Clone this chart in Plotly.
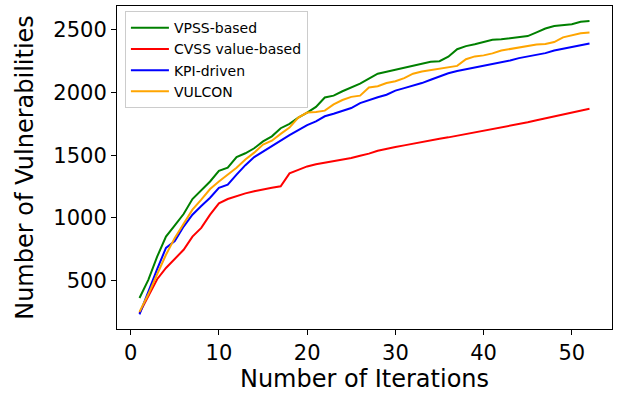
import plotly.graph_objects as go

iterations = list(range(1, 53))

vpss = [360, 505, 690, 850, 940, 1030, 1150, 1220, 1290, 1375, 1400, 1485, 1515, 1555, 1610, 1650,
        1715, 1750, 1800, 1840, 1885, 1960, 1975, 2010, 2040, 2070, 2110, 2150, 2165, 2180, 2200,
        2215, 2230, 2245, 2250, 2285, 2345, 2370, 2385, 2405, 2420, 2425, 2435, 2440, 2450, 2480,
        2510, 2530, 2535, 2545, 2565, 2570]

cvss = [240, 375, 510, 600, 675, 745, 850, 920, 1025, 1115, 1150, 1175, 1195, 1212, 1228, 1240,
        1252, 1355, 1382, 1410, 1428, 1440, 1455, 1470, 1478, 1496, 1512, 1535, 1552, 1565, 1578,
        1592, 1605, 1623, 1631, 1642, 1655, 1670, 1682, 1695, 1709, 1719, 1732, 1748, 1762, 1778,
        1793, 1812, 1828, 1841, 1857, 1870]

kpi = [230, 415, 590, 760, 815, 930, 1025, 1095, 1160, 1240, 1265, 1345, 1420, 1485, 1530, 1575,
       1620, 1660, 1700, 1740, 1770, 1810, 1830, 1850, 1876, 1915, 1940, 1962, 1982, 2015, 2035,
       2055, 2075, 2102, 2128, 2153, 2172, 2186, 2195, 2212, 2226, 2237, 2256, 2274, 2288, 2301,
       2314, 2335, 2349, 2366, 2376, 2390]

vulcon = [250, 390, 550, 705, 840, 955, 1065, 1145, 1230, 1290, 1345, 1400, 1465, 1520, 1585, 1615,
          1670, 1720, 1800, 1840, 1845, 1855, 1905, 1940, 1965, 1975, 2040, 2050, 2075, 2090, 2115,
          2150, 2168, 2180, 2192, 2200, 2212, 2265, 2288, 2296, 2312, 2335, 2347, 2358, 2367, 2382,
          2386, 2402, 2440, 2455, 2472, 2478]

series = [
    ("VPSS-based", vpss, "#008000"),
    ("CVSS value-based", cvss, "#ff0000"),
    ("KPI-driven", kpi, "#0000ff"),
    ("VULCON", vulcon, "#ffa500"),
]

font_family = "DejaVu Sans"

fig = go.Figure()
for name, vals, color in series:
    fig.add_trace(go.Scatter(x=iterations, y=vals, mode="lines", name=name,
                             line=dict(color=color, width=2)))

axis_common = dict(showgrid=False, zeroline=False, showline=True, linecolor="black",
                   linewidth=1, mirror=True, ticks="outside", ticklen=5, tickwidth=1,
                   tickcolor="black", tickfont=dict(size=21, color="black", family=font_family))

fig.update_xaxes(range=[-1.55, 54.55], tickvals=[0, 10, 20, 30, 40, 50],
                 title=dict(text="Number of Iterations", standoff=5,
                            font=dict(size=24, color="black", family=font_family)),
                 **axis_common)
fig.update_yaxes(range=[113, 2690], tickvals=[500, 1000, 1500, 2000, 2500],
                 title=dict(text="Number of Vulnerabilities", standoff=12,
                            font=dict(size=24, color="black", family=font_family)),
                 **axis_common)

fig.update_layout(
    width=624, height=396,
    margin=dict(l=117, r=12, t=6, b=67),
    plot_bgcolor="white", paper_bgcolor="white",
    font=dict(family=font_family, color="black"),
    legend=dict(x=0.016, y=0.984, xanchor="left", yanchor="top",
                bgcolor="rgba(255,255,255,0.8)", bordercolor="#cccccc", borderwidth=1,
                font=dict(size=14, color="black", family=font_family),
                itemwidth=38, tracegroupgap=0),
)

fig.write_html("out.html")
